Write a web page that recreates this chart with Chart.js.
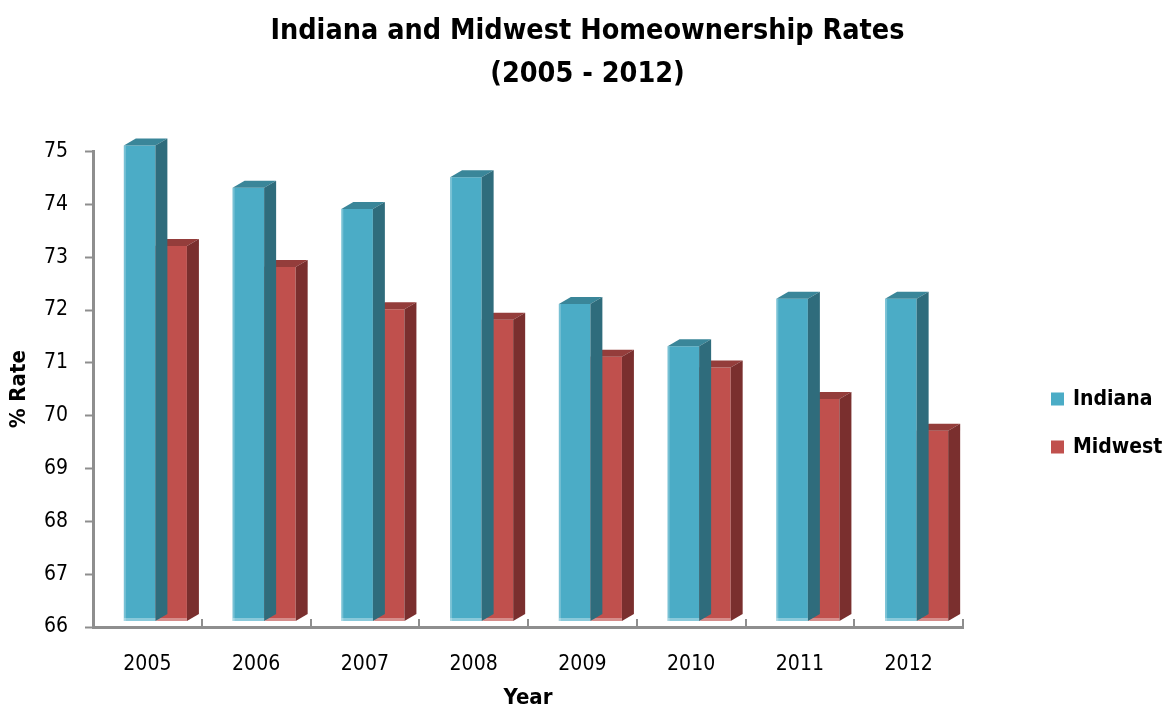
<!DOCTYPE html>
<html>
<head>
<meta charset="utf-8">
<script src="https://cdn.jsdelivr.net/npm/chart.js@4"></script>
<style>
    html, body { margin: 0; padding: 0; background: #fff; }
    #wrap { width: 1169px; height: 713px; }
</style>
</head>
<body>
<div id="wrap"><canvas id="homeownership-chart"></canvas></div>
<script>
(function () {
    "use strict";

    const years = ["2005", "2006", "2007", "2008", "2009", "2010", "2011", "2012"];
    const indiana = [75.0, 74.2, 73.8, 74.4, 72.0, 71.2, 72.1, 72.1];
    const midwest = [73.1, 72.7, 71.9, 71.7, 71.0, 70.8, 70.2, 69.6];
    const yMin = 66;
    const yMax = 75;

    const FONT = "'Liberation Sans Narrow', 'Arial Narrow', 'DejaVu Sans Condensed', sans-serif";

    // front / top / side shades per series
    const shades = [
        { front: "#4bacc6", top: "#3a8699", side: "#2f6c7c" },
        { front: "#c0504d", top: "#943d3b", side: "#7a2f2e" },
    ];

    // fake 3D: push the front faces back a little, then add top and side faces
    const depth = { dx: 12, dy: 7, shiftX: 8, shiftY: -6 };
    const barClip = { left: 30, top: 30, right: 30, bottom: 0 };

    // legend sits to the right of the plot
    const legendBox = { offsetX: 88, top: 399, rowGap: 48, size: 13, textGap: 9 };

    const bars3d = {
        id: "bars3d",
        beforeDatasetDraw(chart) {
            chart.ctx.save();
            chart.ctx.translate(depth.shiftX, depth.shiftY);
        },
        afterDatasetDraw(chart, args) {
            const ctx = chart.ctx;
            const shade = shades[args.index];
            const floor = chart.chartArea.bottom;
            args.meta.data.forEach((el) => {
                const p = el.getProps(["x", "y", "base", "width"], true);
                const y = p.y;
                const base = Math.min(p.base, floor);
                const l = p.x - p.width / 2;
                const r = p.x + p.width / 2;
                // top
                ctx.fillStyle = shade.top;
                ctx.beginPath();
                ctx.moveTo(l, y);
                ctx.lineTo(l + depth.dx, y - depth.dy);
                ctx.lineTo(r + depth.dx, y - depth.dy);
                ctx.lineTo(r, y);
                ctx.closePath();
                ctx.fill();
                // side
                ctx.fillStyle = shade.side;
                ctx.beginPath();
                ctx.moveTo(r, y);
                ctx.lineTo(r + depth.dx, y - depth.dy);
                ctx.lineTo(r + depth.dx, base - depth.dy);
                ctx.lineTo(r, base);
                ctx.closePath();
                ctx.fill();
                // light left edge and floor glow of the front face
                ctx.fillStyle = "rgba(255,255,255,0.25)";
                ctx.fillRect(l, y, 2, base - y);
                ctx.fillStyle = "rgba(255,255,255,0.35)";
                ctx.fillRect(l, base - 3, r - l, 3);
            });
            ctx.restore();
        },
        afterDraw(chart) {
            const ctx = chart.ctx;
            const xs = chart.scales.x;
            const step = xs.width / years.length;

            // category tick marks pointing up into the plot
            ctx.save();
            ctx.strokeStyle = "#8e8e8e";
            ctx.lineWidth = 2;
            for (let i = 1; i <= years.length; i++) {
                const px = Math.round(xs.left + i * step);
                ctx.beginPath();
                ctx.moveTo(px, xs.top - 8);
                ctx.lineTo(px, xs.top);
                ctx.stroke();
            }

            // legend
            const lx = chart.chartArea.right + legendBox.offsetX;
            ctx.font = "bold 21px " + FONT;
            ctx.textBaseline = "middle";
            ctx.textAlign = "left";
            chart.data.datasets.forEach((ds, i) => {
                const ly = legendBox.top + i * legendBox.rowGap;
                ctx.fillStyle = ds.backgroundColor;
                ctx.fillRect(lx, ly - legendBox.size / 2, legendBox.size, legendBox.size);
                ctx.fillStyle = "#000";
                ctx.fillText(ds.label, lx + legendBox.size + legendBox.textGap, ly + 1);
            });
            ctx.restore();
        },
    };

    new Chart(document.getElementById("homeownership-chart"), {
        type: "bar",
        data: {
            labels: years,
            datasets: [
                {
                    label: "Indiana",
                    data: indiana,
                    backgroundColor: shades[0].front,
                    clip: barClip,
                },
                {
                    label: "Midwest",
                    data: midwest,
                    backgroundColor: shades[1].front,
                    clip: barClip,
                },
            ],
        },
        options: {
            responsive: true,
            maintainAspectRatio: false,
            animation: false,
            categoryPercentage: 0.58,
            barPercentage: 1.0,
            layout: {
                padding: { top: 0, right: 0, bottom: 2, left: 6 },
            },
            scales: {
                x: {
                    grid: { display: false },
                    border: { display: true, color: "#8e8e8e", width: 3 },
                    ticks: {
                        color: "#000",
                        padding: 17,
                        font: { family: FONT, size: 21 },
                    },
                    title: {
                        display: true,
                        text: "Year",
                        color: "#000",
                        padding: 0,
                        font: { family: FONT, size: 22, weight: "bold" },
                    },
                    afterFit(scale) {
                        scale.height = 84;
                    },
                },
                y: {
                    min: yMin,
                    max: yMax,
                    grid: {
                        drawOnChartArea: false,
                        tickLength: 8,
                        tickColor: "#8e8e8e",
                        tickWidth: 2,
                    },
                    border: { display: true, color: "#8e8e8e", width: 3 },
                    ticks: {
                        stepSize: 1,
                        color: "#000",
                        padding: 17,
                        font: { family: FONT, size: 21 },
                    },
                    title: {
                        display: true,
                        text: "% Rate",
                        color: "#000",
                        padding: 0,
                        font: { family: FONT, size: 22, weight: "bold" },
                    },
                    afterFit(scale) {
                        scale.width = 87;
                    },
                },
                // empty axis that keeps room on the right for the legend
                gap: {
                    axis: "y",
                    position: "right",
                    display: true,
                    grid: { display: false },
                    border: { display: false },
                    ticks: { display: false },
                    afterFit(scale) {
                        scale.width = 206;
                    },
                },
            },
            plugins: {
                title: {
                    display: true,
                    text: ["Indiana and Midwest Homeownership Rates", "(2005 - 2012)"],
                    color: "#000",
                    padding: { top: 10, bottom: 56 },
                    font: { family: FONT, size: 28.5, weight: "bold", lineHeight: 1.5 },
                },
                legend: { display: false },
                tooltip: { enabled: false },
            },
        },
        plugins: [bars3d],
    });
})();
</script>
</body>
</html>
